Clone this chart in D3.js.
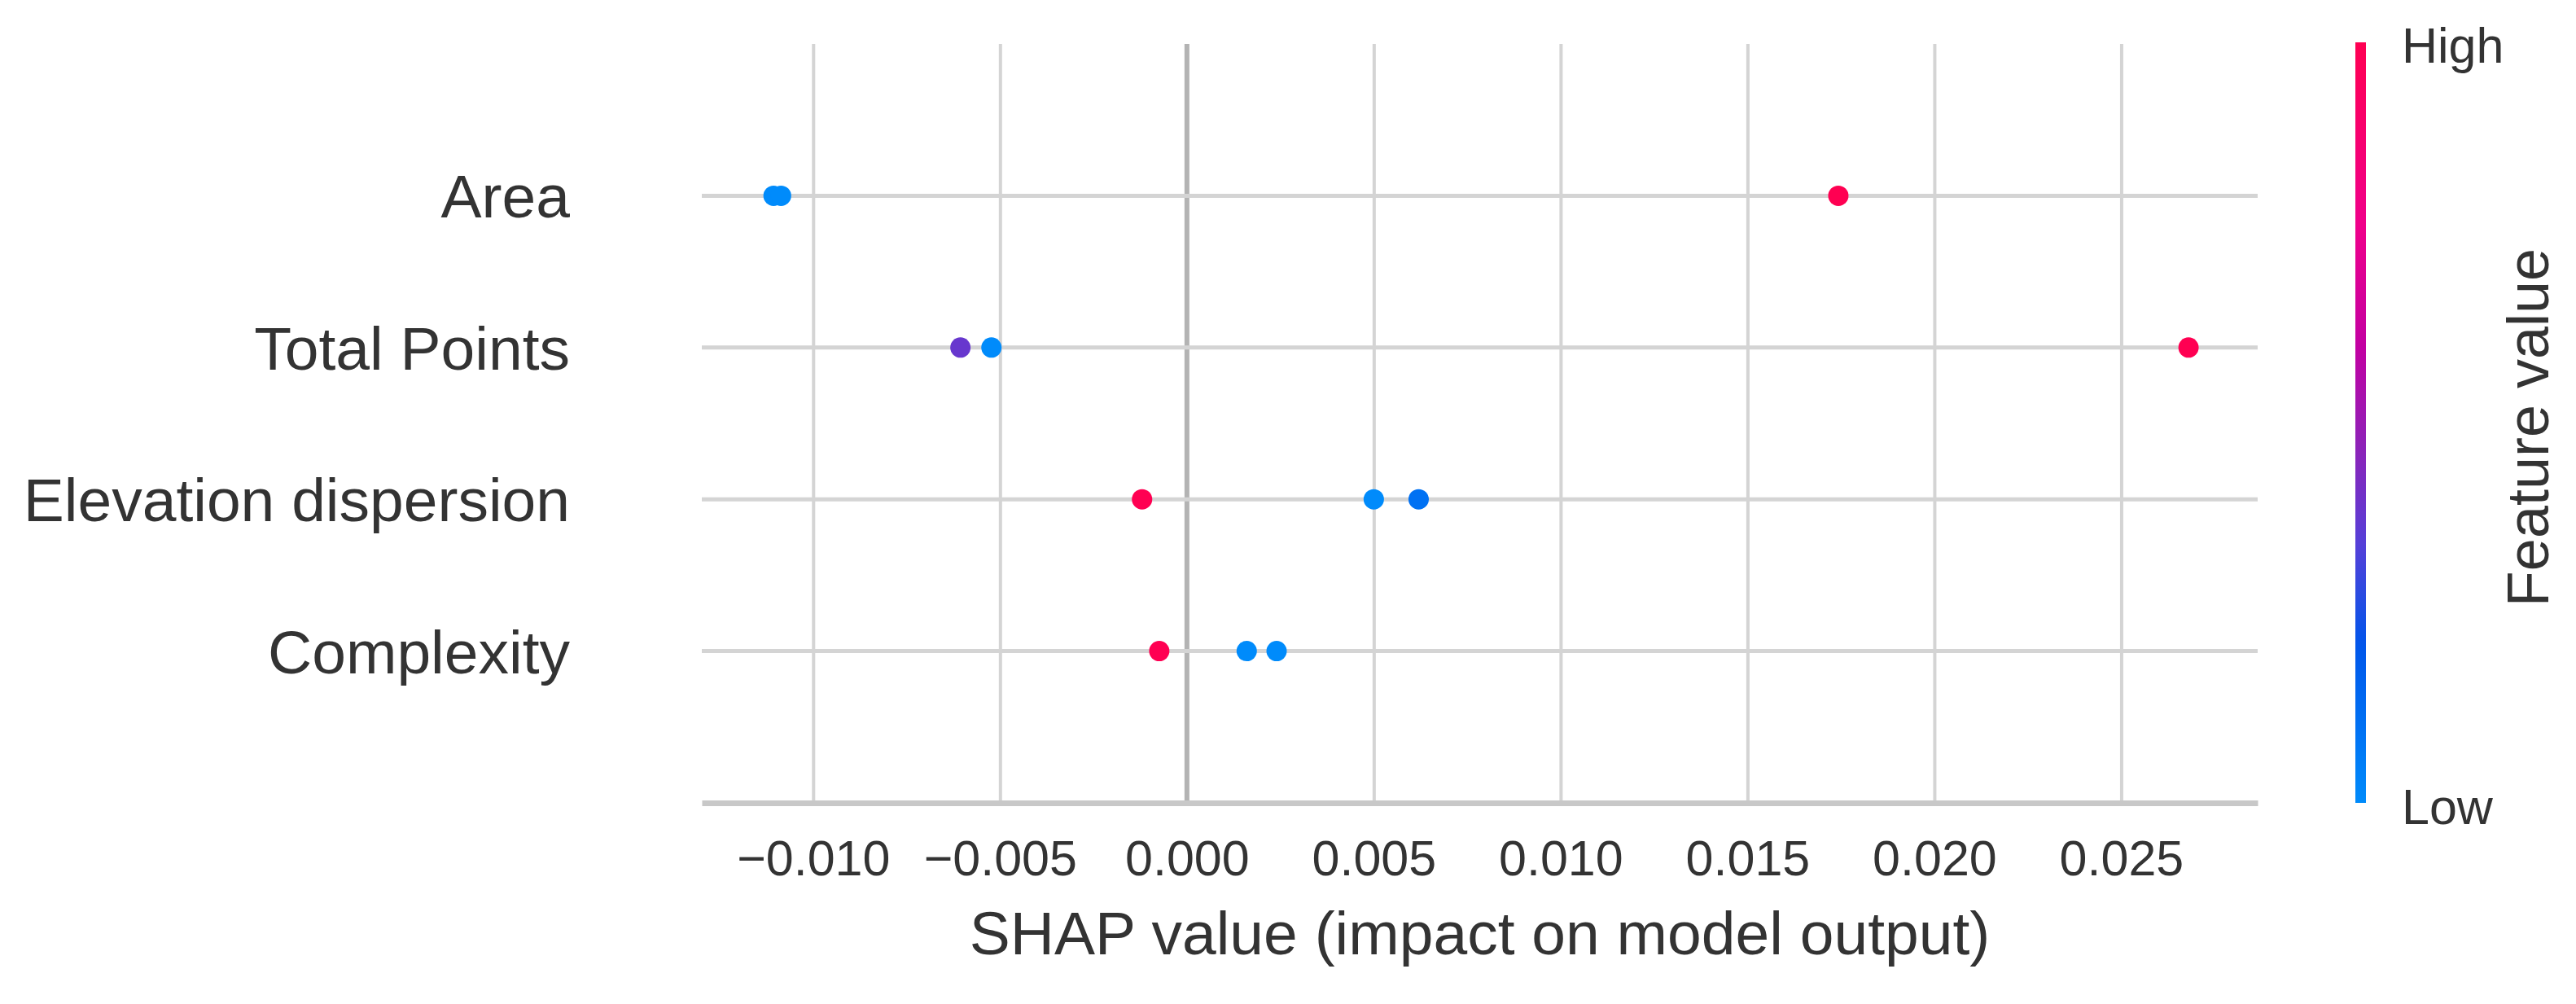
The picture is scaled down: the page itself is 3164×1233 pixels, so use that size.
<!DOCTYPE html>
<html>
<head>
<meta charset="utf-8">
<script src="https://cdn.jsdelivr.net/npm/d3@7"></script>
<style>
	body { margin: 0; background: #fff; }
	text { font-family: "Liberation Sans", Arial, sans-serif; fill: #333333; }
</style>
</head>
<body>
<script>
// Features, top to bottom
var features = ["Area", "Total Points", "Elevation dispersion", "Complexity"];

// SHAP values for each sample, per feature
var areaShap = [-0.01106, -0.01086, 0.01743];
var totalPointsShap = [-0.00606, -0.00523, 0.02680];
var elevationShap = [-0.00120, 0.00500, 0.00620];
var complexityShap = [-0.00074, 0.00160, 0.00240];

// Normalised feature value for each sample (0 = low, 1 = high)
var areaFeat = [0.0, 0.0, 1.0];
var totalPointsFeat = [0.38, 0.0, 1.0];
var elevationFeat = [1.0, 0.0, 0.1];
var complexityFeat = [1.0, 0.0, 0.0];

var xTicks = [-0.010, -0.005, 0.000, 0.005, 0.010, 0.015, 0.020, 0.025];
var xDomain = [-0.01298, 0.02865];

// Colour map stops (low -> high)
var cmapStops = [0, 0.21, 0.34, 0.47, 0.6, 0.76, 1];
var cmapColors = ["#008bfb", "#0055ea", "#5540d8", "#8e22b8", "#c200a2", "#f0008a", "#ff0052"];

var shapRows = [areaShap, totalPointsShap, elevationShap, complexityShap];
var featRows = [areaFeat, totalPointsFeat, elevationFeat, complexityFeat];

var W = 3164, H = 1233;
var plotLeft = 862, plotRight = 2773, plotTop = 54, plotBottom = 986;

var x = d3.scaleLinear().domain(xDomain).range([plotLeft, plotRight]);
var y = d3.scaleLinear().domain([-1, features.length]).range([plotTop, plotBottom]);
var color = d3.scaleLinear().domain(cmapStops).range(cmapColors);

var svg = d3.select("body").append("svg")
	.attr("width", W)
	.attr("height", H);

// Vertical grid lines
svg.append("g")
	.attr("class", "grid")
	.attr("transform", "translate(0," + plotBottom + ")")
	.call(d3.axisBottom(x).tickValues(xTicks).tickSize(-(plotBottom - plotTop)).tickFormat(""))
	.call(function(g) { g.select(".domain").remove(); })
	.selectAll("line")
		.attr("stroke", "#d4d4d4")
		.attr("stroke-width", 4);

// Zero line
svg.append("line")
	.attr("x1", x(0)).attr("x2", x(0))
	.attr("y1", plotTop).attr("y2", plotBottom)
	.attr("stroke", "#b3b3b3")
	.attr("stroke-width", 6);

// Horizontal row lines
svg.selectAll(".row-line")
	.data(features)
	.enter().append("line")
		.attr("class", "row-line")
		.attr("x1", plotLeft).attr("x2", plotRight)
		.attr("y1", function(d, i) { return y(i); })
		.attr("y2", function(d, i) { return y(i); })
		.attr("stroke", "#d4d4d4")
		.attr("stroke-width", 5);

// Bottom axis
var xAxis = svg.append("g")
	.attr("class", "x-axis")
	.attr("transform", "translate(0," + plotBottom + ")")
	.call(d3.axisBottom(x).tickValues(xTicks).tickSize(0).tickPadding(46).tickFormat(d3.format(".3f")));
xAxis.select(".domain")
	.attr("stroke", "#c8c8c8")
	.attr("stroke-width", 7);
xAxis.selectAll("text")
	.attr("font-size", 61)
	.style("font-family", "'Liberation Sans', Arial, sans-serif")
	.attr("fill", "#333333");

// Feature labels
svg.selectAll(".feat-label")
	.data(features)
	.enter().append("text")
		.attr("class", "feat-label")
		.attr("x", 700)
		.attr("y", function(d, i) { return y(i); })
		.attr("dy", "0.36em")
		.attr("font-size", 75)
		.style("text-anchor", "end")
		.text(function(d) { return d; });

// Dots
var points = [];
for (var i = 0; i < features.length; i++) {
	for (var j = 0; j < shapRows[i].length; j++) {
		points.push({row: i, shap: shapRows[i][j], feat: featRows[i][j]});
	}
}
svg.selectAll(".dot")
	.data(points)
	.enter().append("circle")
		.attr("class", "dot")
		.attr("cx", function(d) { return x(d.shap); })
		.attr("cy", function(d) { return y(d.row); })
		.attr("r", 12.5)
		.attr("fill", function(d) { return color(d.feat); });

// X axis label
svg.append("text")
	.attr("x", (plotLeft + plotRight) / 2)
	.attr("y", 1172)
	.attr("font-size", 75)
	.style("text-anchor", "middle")
	.text("SHAP value (impact on model output)");

// Colour bar
var defs = svg.append("defs");
var grad = defs.append("linearGradient")
	.attr("id", "cbar")
	.attr("x1", "0").attr("y1", "1").attr("x2", "0").attr("y2", "0");
grad.selectAll("stop")
	.data(d3.range(0, 1.0001, 0.02))
	.enter().append("stop")
		.attr("offset", function(d) { return d; })
		.attr("stop-color", function(d) { return color(d); });

var cbTop = 52, cbBottom = 986;
svg.append("rect")
	.attr("x", 2893)
	.attr("y", cbTop)
	.attr("width", 13)
	.attr("height", cbBottom - cbTop)
	.attr("fill", "url(#cbar)");

svg.append("text")
	.attr("x", 2950)
	.attr("y", 77)
	.attr("font-size", 61)
	.text("High");

svg.append("text")
	.attr("x", 2950)
	.attr("y", 1012)
	.attr("font-size", 61)
	.text("Low");

svg.append("text")
	.attr("transform", "translate(3130,525) rotate(-90)")
	.attr("font-size", 72)
	.style("text-anchor", "middle")
	.text("Feature value");
</script>
</body>
</html>
